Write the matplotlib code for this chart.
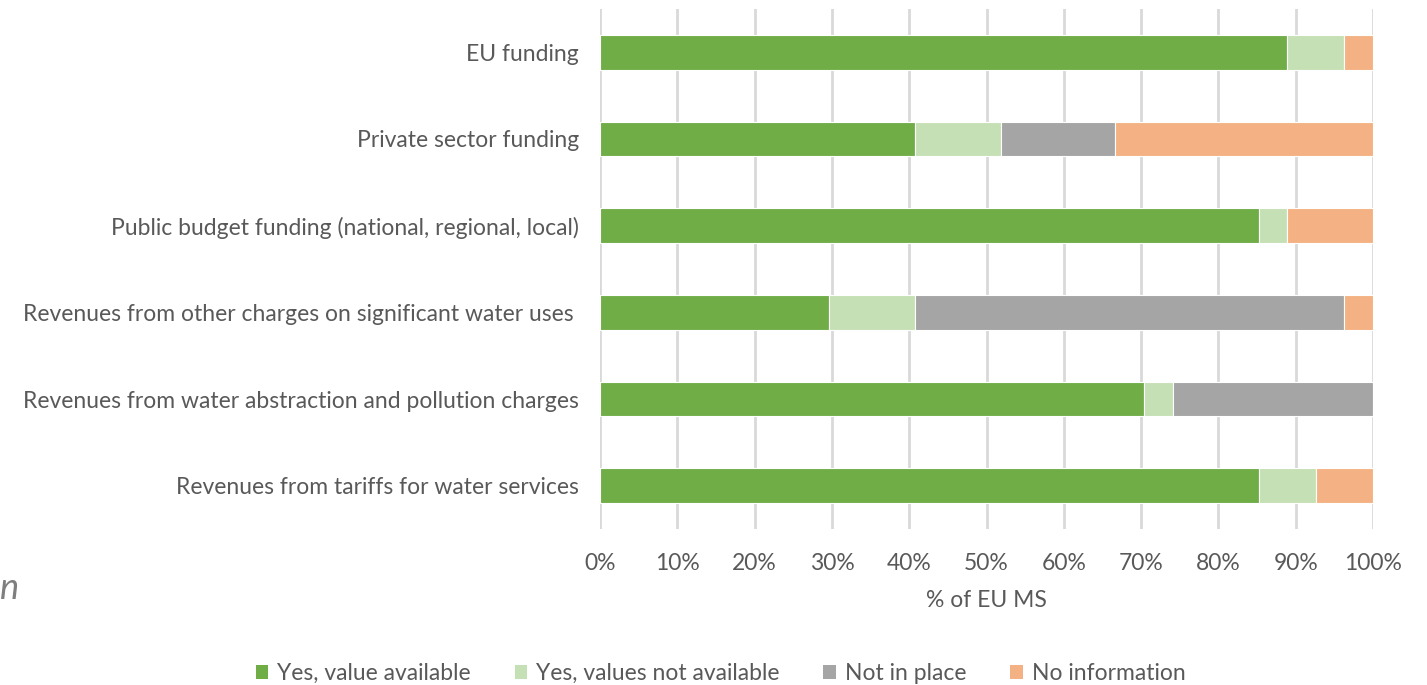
import numpy as np
import matplotlib.pyplot as plt
from matplotlib.patches import Patch

plt.rcParams['font.family'] = ['Lato', 'DejaVu Sans']

# 27 EU member states, shares
categories = [
    "Revenues from tariffs for water services",
    "Revenues from water abstraction and pollution charges",
    "Revenues from other charges on significant water uses ",
    "Public budget funding (national, regional, local)",
    "Private sector funding",
    "EU funding",
]
yes_value = [23, 19, 8, 23, 11, 24]
yes_no_value = [2, 1, 3, 1, 3, 2]
not_in_place = [0, 7, 15, 0, 4, 0]
no_info = [2, 0, 1, 3, 9, 1]
n_ms = 27

series = ["Yes, value available", "Yes, values not available", "Not in place", "No information"]
colors = ["#70ad47", "#c5e0b4", "#a5a5a5", "#f4b183"]
text_col = "#595959"

fig = plt.figure(figsize=(14.27, 6.85), dpi=100)
ax = fig.add_axes([0.4205, 0.2277, 0.5417, 0.7592])

y = np.arange(len(categories))
left = np.zeros(len(categories))
for name, vals, c in zip(series, [yes_value, yes_no_value, not_in_place, no_info], colors):
    v = np.array(vals) / n_ms
    ax.barh(y, v, left=left, height=0.4, color=c, edgecolor="white", linewidth=0.8, label=name, zorder=3)
    left += v

ax.set_xlim(0, 1)
ax.set_ylim(-0.5, len(categories) - 0.5)
ax.set_xticks(np.arange(0, 1.01, 0.1))
ax.set_xticklabels([f"{int(round(t * 100))}%" for t in np.arange(0, 1.01, 0.1)])
ax.set_yticks(y)
ax.set_yticklabels(categories)
ax.tick_params(axis="both", length=0, labelsize=16.5, colors=text_col)
ax.tick_params(axis="y", pad=15)
ax.tick_params(axis="x", pad=17)
ax.grid(axis="x", color="#d9d9d9", linewidth=2, zorder=0)
for s in ax.spines.values():
    s.set_visible(False)
ax.set_xlabel("% of EU MS", fontsize=16.5, color=text_col, labelpad=12)

handles = [Patch(facecolor=c, edgecolor="none") for c in colors]
fig.legend(handles, series, loc="center", bbox_to_anchor=(0.505, 0.017), ncol=4, frameon=False,
           fontsize=16.5, handlelength=0.55, handleheight=0.55, handletextpad=0.4, columnspacing=1.9,
           labelcolor=text_col)

# fragment at the left edge of the original image
fig.text(0.0, 0.125, "n", fontsize=26, style="italic", color="#7f7f7f")

fig.savefig("out.png", dpi=100)
